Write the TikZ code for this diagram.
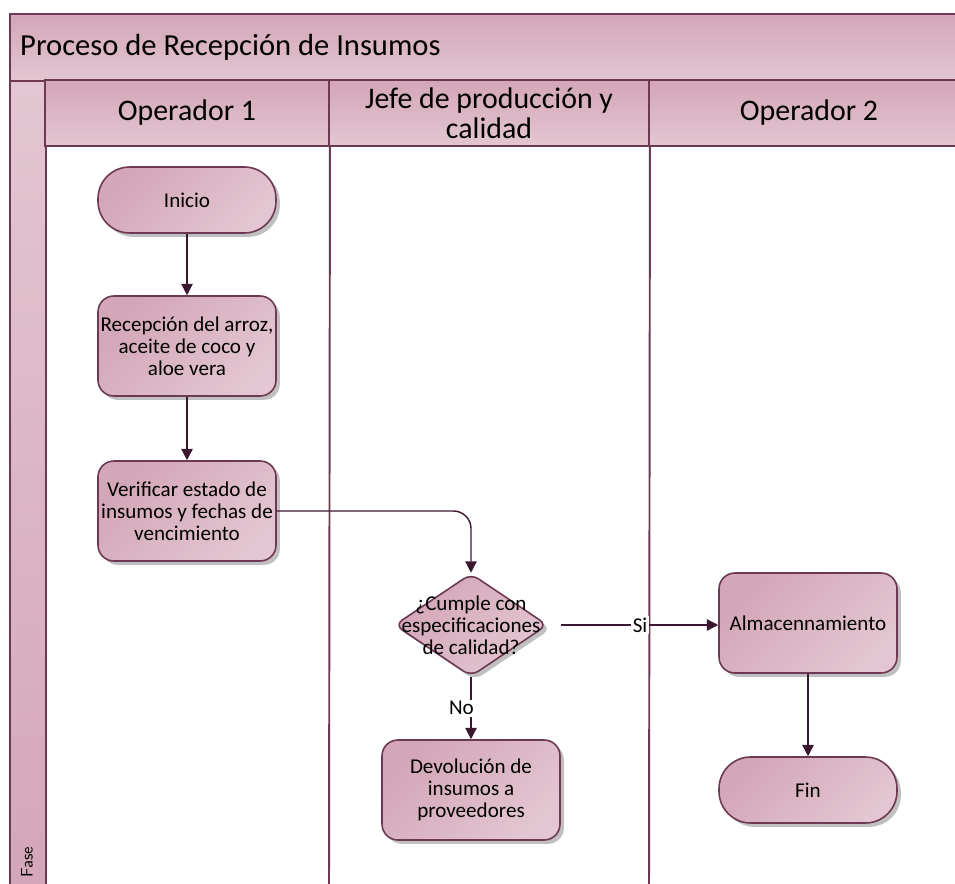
\documentclass[tikz,border=0pt]{standalone}
\usepackage{fontspec}
\setmainfont{Carlito}
\usetikzlibrary{shapes.geometric, shadows, arrows.meta}
\definecolor{rosaOscuro}{HTML}{D3A6B8}
\definecolor{rosaClaro}{HTML}{E3C6D1}
\definecolor{bordeLinea}{HTML}{6C3852}
\definecolor{flechaLinea}{HTML}{3C1830}

\tikzset{
  carril/.style={draw=bordeLinea, line width=1.1pt, top color=rosaOscuro, bottom color=rosaClaro, inner sep=0pt},
  sombra/.style={drop shadow={shadow xshift=2.2pt, shadow yshift=-2.2pt, fill=black!45, opacity=0.55}},
  proceso/.style={draw=bordeLinea, line width=0.9pt, rounded corners=9pt, left color=rosaOscuro, right color=rosaClaro,
    shading angle=45, sombra, minimum width=3.56cm, minimum height=2cm, inner xsep=1pt, align=center,
    font=\fontsize{12}{12.5}\selectfont},
  terminal/.style={proceso, rounded corners=18pt, minimum height=1.32cm},
  decision/.style={diamond, draw=bordeLinea, line width=0.9pt, rounded corners=5pt, left color=rosaOscuro, right color=rosaClaro,
    shading angle=45, sombra, minimum width=3.06cm, minimum height=2.06cm, inner sep=0pt},
  flecha/.style={draw=flechaLinea, line width=0.8pt, -{Triangle[length=6.5pt, width=6.5pt]}},
  etiqueta/.style={fill=white, inner sep=1pt, font=\fontsize{12}{12}\selectfont}
}

\begin{document}
\begin{tikzpicture}[x=0.02cm, y=-0.02cm]
    \clip (0,0) rectangle (955,884);

    % Title bar and phase strip
    \node[carril, anchor=north west, minimum width=19.4cm, minimum height=1.34cm] (titulo) at (9,13) {};
    \node[anchor=west, font=\fontsize{17.4}{20}\selectfont] (tituloTexto) at (14,47) {Proceso de Recepción de Insumos};
    \node[carril, anchor=north west, minimum width=0.72cm, minimum height=16.4cm, top color=rosaClaro, bottom color=rosaOscuro] (fase) at (9,80) {};
    \node[rotate=90, anchor=west, font=\fontsize{9.5}{10}\selectfont\sffamily] (faseTexto) at (27,884) {Fase};

    % Lane headers
    \node[carril, minimum width=5.68cm, minimum height=1.32cm, font=\fontsize{17}{17}\selectfont] (carril1) at (187,113) {Operador 1};
    \node[carril, minimum width=6.4cm, minimum height=1.32cm, align=center, font=\fontsize{17}{17}\selectfont] (carril2) at (489,113) {Jefe de producción y\\calidad};
    \node[carril, minimum width=6.4cm, minimum height=1.32cm, font=\fontsize{17}{17}\selectfont] (carril3) at (809,113) {Operador 2};

    % Lane dividers
    \coordinate (fin1) at (329,890);
    \coordinate (fin2) at (649,890);
    \draw[bordeLinea, line width=1.1pt] (carril1.south east) -- (fin1);
    \draw[bordeLinea, line width=1.1pt] (carril2.south east) -- (fin2);

    % Flow nodes
    \node[terminal] (inicio) at (187,200) {Inicio};
    \node[proceso] (recepcion) at (187,346) {Recepción del arroz,\\aceite de coco y\\aloe vera};
    \node[proceso] (verificar) at (187,511) {Verificar estado de\\insumos y fechas de\\vencimiento};
    \node[decision] (cumple) at (471,625) {};
    \node[align=center, font=\fontsize{12}{12.5}\selectfont] (cumpleTexto) at (cumple) {¿Cumple con\\especificaciones\\de calidad?};
    \node[proceso] (devolucion) at (471,790) {Devolución de\\insumos a\\proveedores};
    \node[proceso] (almacen) at (808,623) {Almacennamiento};
    \node[terminal] (fin) at (808,790) {Fin};

    % Connectors
    \draw[flecha] (inicio) -- (recepcion);
    \draw[flecha] (recepcion) -- (verificar);
    \draw[flecha, rounded corners=10pt] (verificar.east) -| (cumple.north);
    \draw[flecha, shorten <=7pt] (cumple.east) -- node[etiqueta, pos=0.54] (si) {Si} (cumple.east -| almacen.west);
    \draw[flecha] (cumple.south) -- node[etiqueta, pos=0.5, left=-3pt] (no) {No} (devolucion.north);
    \draw[flecha] (almacen) -- (fin);

\end{tikzpicture}
\end{document}
